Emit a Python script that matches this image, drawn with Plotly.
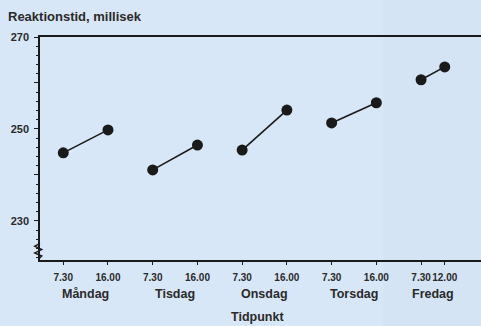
import plotly.graph_objects as go

days = ["Måndag", "Tisdag", "Onsdag", "Torsdag", "Fredag"]
times = [["7.30", "16.00"], ["7.30", "16.00"], ["7.30", "16.00"], ["7.30", "16.00"], ["7.30", "12.00"]]
hours = [[7.5, 16.0], [7.5, 16.0], [7.5, 16.0], [7.5, 16.0], [7.5, 12.0]]
reaction_ms = [[244.8, 249.8], [241.1, 246.5], [245.4, 254.1], [251.3, 255.7], [260.7, 263.5]]

y_ticks = [230, 240, 250, 260, 270]
y_ticklabels = ["230", "", "250", "", "270"]

def xpos(d, h):
    return d + (h - 7.5) / 8.5 * 0.5

font = "Liberation Sans, Arial, sans-serif"
ink = "#1a1a1a"
txt = "#2a2a2a"
bg = "#d8e7f7"

fig = go.Figure()
tickvals, ticktext = [], []
for d, day in enumerate(days):
    xs = [xpos(d, h) for h in hours[d]]
    tickvals += xs
    ticktext += times[d]
    fig.add_trace(go.Scatter(
        x=xs, y=reaction_ms[d], mode="lines+markers",
        line=dict(color=ink, width=1.6),
        marker=dict(color=ink, size=11),
        showlegend=False, hoverinfo="skip"))
    fig.add_annotation(x=sum(xs) / 2, y=-0.1525, xref="x", yref="paper",
                       text=day, showarrow=False, yanchor="middle",
                       font=dict(family=font, size=12.5, color=txt, weight="bold"))

fig.add_annotation(x=0.494, y=-0.256, xref="paper", yref="paper", text="Tidpunkt",
                   showarrow=False, yanchor="middle",
                   font=dict(family=font, size=12.5, color=txt, weight="bold"))
fig.add_annotation(x=-0.077, y=1.094, xref="paper", yref="paper",
                   text="Reaktionstid, millisek", showarrow=False,
                   xanchor="left", yanchor="middle",
                   font=dict(family=font, size=13, color=txt, weight="bold"))

# slightly different right panel
fig.add_shape(type="rect", xref="paper", yref="paper", x0=0.778, x1=1.0, y0=-0.3, y1=1.17,
              fillcolor="rgba(150,180,225,0.05)", line=dict(width=0), layer="below")
# axis break zigzag
fig.add_shape(type="path", xref="paper", yref="paper",
              path="M 0,0.075 L -0.012,0.062 L 0.004,0.047 L -0.012,0.032 L 0.004,0.018 L -0.003,0.005",
              line=dict(color=ink, width=1.4))

fig.update_layout(
    width=481, height=326,
    margin=dict(l=40, r=0, t=37, b=66),
    paper_bgcolor=bg, plot_bgcolor="rgba(0,0,0,0)",
    font=dict(family=font, color=txt),
    xaxis=dict(range=[-0.26, 4.67], tickvals=tickvals, ticktext=ticktext,
               showgrid=False, zeroline=False, showline=True, mirror=True,
               linecolor=ink, linewidth=1.5, ticks="outside", ticklen=3,
               ticklabelstandoff=4, tickangle=0,
               tickcolor=ink, tickfont=dict(size=10, color=txt, family=font, weight="bold")),
    yaxis=dict(range=[221.5, 270], tickvals=y_ticks, ticktext=y_ticklabels,
               showgrid=False, zeroline=False, showline=True,
               linecolor=ink, linewidth=1.5, ticks="outside", ticklen=4,
               ticklabelstandoff=3,
               minor=dict(ticks="outside", dtick=2, ticklen=2, tickcolor=ink),
               tickcolor=ink, tickfont=dict(size=11, color=txt, family=font, weight="bold")),
)

fig.write_html("out.html", config={"displayModeBar": False},
               post_script="document.body.style.margin='0';document.body.style.background='%s';" % bg)
